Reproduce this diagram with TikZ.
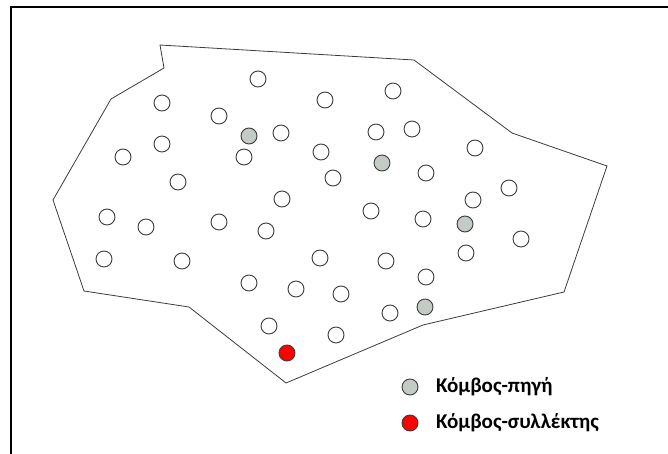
\documentclass[tikz,border=0pt]{standalone}
\usepackage{fontspec}
\setmainfont{Carlito}
\definecolor{srcgray}{HTML}{C4CAC4}
\definecolor{edgegray}{HTML}{3C3C3C}
\tikzset{
  sensor/.style={circle, draw=edgegray, line width=0.9pt, minimum size=16pt, inner sep=0pt},
  source/.style={sensor, fill=srcgray},
  sink/.style={sensor, fill=red},
  legendtext/.style={anchor=west, inner sep=0pt, font=\fontsize{21}{24}\selectfont\bfseries}
}
\begin{document}
\begin{tikzpicture}[x=1pt,y=-1pt]
        \useasboundingbox (0,0) rectangle (668,454);
        % frame
        \draw[line width=2.4pt] (11,454) -- (11,7) -- (668,7);
        % field border
        \draw[edgegray, line width=0.8pt] (160,45) -- (414,60) -- (512,133) -- (607,166) -- (564,292)
            -- (423,325) -- (286,383) -- (189,307) -- (84,291) -- (53,200) -- (111,99) -- (164,68) -- cycle;
        % ordinary nodes
        \foreach \x/\y [count=\i] in {258/79, 325/100, 393/91, 162/103, 219/116, 281/133, 376/132, 412/129,
            162/144, 123/157, 244/157, 321/152, 475/148, 178/182, 333/178, 426/173, 509/188, 107/217,
            146/227, 219/222, 282/199, 371/211, 423/219, 473/200, 266/231, 521/239, 104/259, 182/261,
            320/258, 386/261, 466/253, 249/283, 296/289, 341/294, 426/277, 269/326, 390/313, 336/335}
            \node[sensor] (n\i) at (\x,\y) {};
        % source nodes
        \node[source] (s1) at (249,136) {};
        \node[source] (s2) at (382,163) {};
        \node[source] (s3) at (465,224) {};
        \node[source] (s4) at (425,307) {};
        % sink
        \node[sink] (sink) at (287,353) {};
        % legend
        \node[source] (keysrc) at (410,387) {};
        \node[legendtext] (keysrctext) at (436,387) {Κόμβος-πηγή};
        \node[sink] (keysink) at (410,423) {};
        \node[legendtext] (keysinktext) at (436,423) {Κόμβος-συλλέκτης};
    \end{tikzpicture}
\end{document}
